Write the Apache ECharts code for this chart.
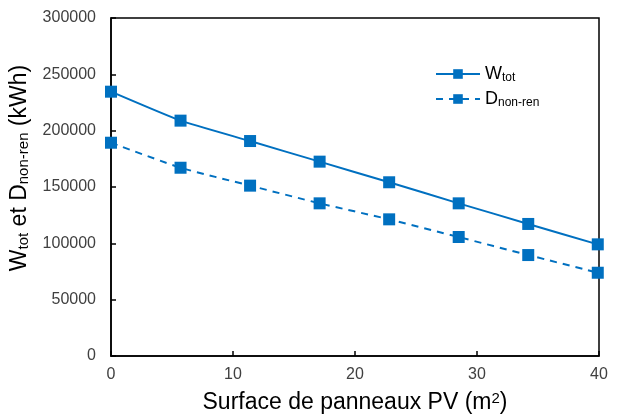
<!DOCTYPE html>
<html>
<head>
<meta charset="utf-8">
<script src="https://cdn.jsdelivr.net/npm/echarts@6/dist/echarts.min.js"></script>
<style>
  html, body { margin: 0; padding: 0; background: #fff; }
  #main { width: 617px; height: 419px; }
</style>
</head>
<body>
<div id="main"></div>
<script>
// surface PV (m2)
const surface = [0, 5.7, 11.4, 17.1, 22.8, 28.5, 34.2, 39.9]
// W_tot (kWh)
const wTot = [234600, 208900, 190800, 172500, 154200, 135500, 117200, 99100]
// D_non-ren (kWh)
const dNonRen = [189300, 167100, 151200, 135500, 121300, 105600, 89600, 73900]

const blue = '#0070C0'
const font = 'Liberation Sans, Arial, sans-serif'

const chart = echarts.init(document.getElementById('main'), null, { renderer: 'canvas' })

const subStyle = (size, pad) => ({
  fontSize: size,
  fontFamily: font,
  color: '#000',
  verticalAlign: 'bottom',
  padding: pad
})

chart.setOption({
  backgroundColor: '#ffffff',
  animation: false,
  grid: { left: 111, right: 18, top: 18, bottom: 63, show: true, borderColor: '#000', borderWidth: 1.5 },
  legend: {
    orient: 'vertical',
    left: 430,
    top: 60,
    itemWidth: 44,
    itemHeight: 12,
    itemGap: 6,
    data: ['Wtot', 'Dnonren'],
    formatter: function (name) {
      return name === 'Wtot' ? 'W{s|tot}' : 'D{s|non-ren}'
    },
    textStyle: {
      fontFamily: font,
      fontSize: 18,
      color: '#000',
      rich: { s: subStyle(12, [8, 0, 0, 0]) }
    }
  },
  xAxis: {
    type: 'value',
    min: 0,
    max: 40,
    interval: 10,
    name: 'Surface de panneaux PV (m{sup|2})',
    nameLocation: 'middle',
    nameGap: 35,
    nameTextStyle: {
      fontFamily: font,
      fontSize: 23,
      color: '#000',
      rich: { sup: { fontSize: 15, fontFamily: font, color: '#000', verticalAlign: 'top', padding: [0, 0, 8, 0] } }
    },
    axisLine: { lineStyle: { color: '#000', width: 1.5 } },
    axisTick: { inside: true, length: 5, lineStyle: { color: '#000', width: 1.5 } },
    axisLabel: { fontFamily: font, fontSize: 16, color: '#404040', margin: 11 },
    splitLine: { show: false }
  },
  yAxis: {
    type: 'value',
    min: 0,
    max: 300000,
    interval: 50000,
    name: 'W{s|tot} et D{s|non-ren} (kWh)',
    nameLocation: 'middle',
    nameRotate: 90,
    nameGap: 72,
    nameTextStyle: {
      fontFamily: font,
      fontSize: 23,
      color: '#000',
      padding: [0, 0, 0, 38],
      rich: { s: subStyle(15, [9, 0, 0, 0]) }
    },
    axisLine: { show: true, lineStyle: { color: '#000', width: 1.5 } },
    axisTick: { show: true, inside: true, length: 5, lineStyle: { color: '#000', width: 1.5 } },
    axisLabel: {
      fontFamily: font,
      fontSize: 16,
      color: '#404040',
      margin: 15,
      formatter: v => String(v)
    },
    splitLine: { show: false }
  },
  series: [
    {
      name: 'Wtot',
      type: 'line',
      data: surface.map((x, i) => [x, wTot[i]]),
      smooth: 0.15,
      symbol: 'rect',
      symbolSize: 12,
      itemStyle: { color: blue },
      lineStyle: { color: blue, width: 2 }
    },
    {
      name: 'Dnonren',
      type: 'line',
      data: surface.map((x, i) => [x, dNonRen[i]]),
      smooth: 0.15,
      symbol: 'rect',
      symbolSize: 12,
      itemStyle: { color: blue },
      lineStyle: { color: blue, width: 2, type: [7, 6] }
    }
  ]
})
</script>
</body>
</html>
